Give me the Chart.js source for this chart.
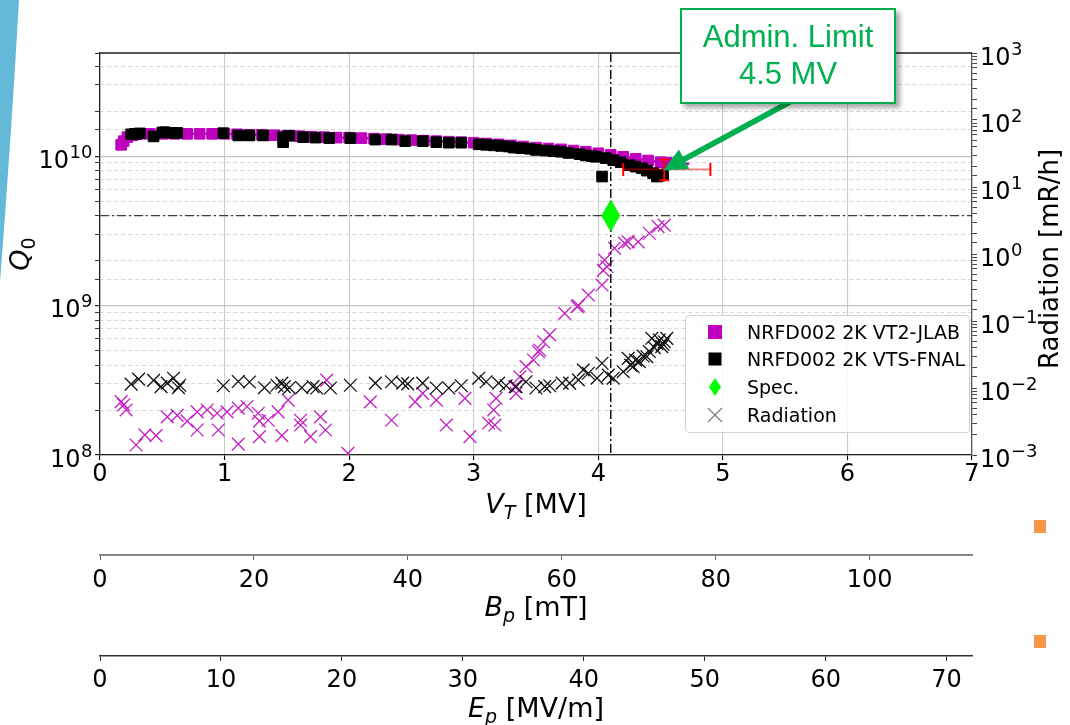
<!DOCTYPE html>
<html>
<head>
<meta charset="utf-8">
<script src="https://cdn.jsdelivr.net/npm/chart.js@4/dist/chart.umd.min.js"></script>
<style>
html,body{margin:0;padding:0;background:#fff;}
#wrap{position:relative;width:1070px;height:725px;overflow:hidden;background:#fff;}
#c{position:absolute;left:0;top:0;}
#deco{position:absolute;left:0;top:0;}
.sq{position:absolute;width:12px;height:13px;background:#f79646;}
#legend{position:absolute;left:685px;top:315px;width:285px;height:118px;box-sizing:border-box;border:1px solid #d3d3d3;border-radius:4px;background:rgba(255,255,255,0.85);font-family:'DejaVu Sans';font-size:19px;color:#000;}
#legend .row{position:absolute;left:0;width:100%;height:28px;}
#legend svg{position:absolute;left:15px;top:0;}
#legend span{position:absolute;left:61px;top:3px;line-height:22px;white-space:nowrap;}
#callout{position:absolute;left:680px;top:8px;width:216px;height:96px;box-sizing:border-box;border:2px solid #00b050;background:#fff;box-shadow:4px 4px 5px rgba(0,0,0,0.35);color:#00b050;font-family:'Liberation Sans';font-size:31px;text-align:center;line-height:36.5px;padding-top:9px;}
</style>
</head>
<body>
<div id="wrap">
<canvas id="c" width="1070" height="725"></canvas>
<svg id="deco" width="30" height="300"><path d="M0,0 L19,0 Q11,140 0,282 Z" fill="#63b9d7"/></svg>
<div class="sq" style="left:1034px;top:520px"></div>
<div class="sq" style="left:1034px;top:635px"></div>
<div id="legend">
  <div class="row" style="top:2px"><svg width="28" height="28"><rect x="7" y="7" width="14" height="14" fill="#bf00bf"/></svg><span>NRFD002 2K VT2-JLAB</span></div>
  <div class="row" style="top:29px"><svg width="28" height="28"><rect x="7.5" y="7.5" width="13" height="13" fill="#000"/></svg><span>NRFD002 2K VTS-FNAL</span></div>
  <div class="row" style="top:57px"><svg width="28" height="28"><path d="M14,5 L20,14 L14,23 L8,14 Z" fill="#00ff00"/></svg><span>Spec.</span></div>
  <div class="row" style="top:85px"><svg width="28" height="28"><path d="M7,7 L21,21 M21,7 L7,21" stroke="#808080" stroke-width="1.3" fill="none"/></svg><span>Radiation</span></div>
</div>
<div id="callout">Admin. Limit<br>4.5 MV</div>
</div>
<script>
// ---------------- data ----------------
const vtRange = [0, 7];
const bpRange = [0, 113.3];
const epRange = [0, 72.1];
const qRange = [1e8, 4.9e10];
const radRange = [1e-3, 1e3];

const vtTicks = [0, 1, 2, 3, 4, 5, 6, 7];
const bpTicks = [0, 20, 40, 60, 80, 100];
const epTicks = [0, 10, 20, 30, 40, 50, 60, 70];
const qTickValues = [1e8, 1e9, 1e10];
const qTickBase = ['10', '10', '10'];
const qTickExp = ['8', '9', '10'];
const radTickValues = [1e-3, 1e-2, 1e-1, 1e0, 1e1, 1e2, 1e3];
const radTickBase = ['10', '10', '10', '10', '10', '10', '10'];
const radTickExp = ['−3', '−2', '−1', '0', '1', '2', '3'];

// Q0 — NRFD002 2K VT2-JLAB (magenta)
const jlabV = [0.17,0.19,0.22,0.26,0.3,0.4,0.5,0.6,0.7,0.8,0.9,1.0,1.1,1.2,1.3,1.4,1.5,1.6,1.7,1.8,1.9,2.0,2.1,2.2,2.3,2.4,2.5,2.6,2.7,2.8,2.9,3.0,3.1,3.2,3.3,3.4,3.5,3.6,3.7,3.8,3.9,4.0,4.1,4.2,4.3,4.4,4.5,4.55,4.73];
const jlabQ = [1.19e10,1.26e10,1.34e10,1.38e10,1.40e10,1.41e10,1.41e10,1.41e10,1.41e10,1.41e10,1.41e10,1.41e10,1.40e10,1.39e10,1.39e10,1.38e10,1.37e10,1.36e10,1.35e10,1.34e10,1.33e10,1.33e10,1.32e10,1.31e10,1.30e10,1.29e10,1.28e10,1.27e10,1.26e10,1.25e10,1.24e10,1.23e10,1.215e10,1.20e10,1.18e10,1.16e10,1.14e10,1.125e10,1.11e10,1.09e10,1.07e10,1.045e10,1.02e10,0.99e10,0.96e10,0.935e10,0.91e10,0.90e10,0.89e10];

// Q0 — NRFD002 2K VTS-FNAL (black)
const fnalV = [0.25,0.28,0.32,0.43,0.5,0.52,0.58,0.62,0.99,1.11,1.20,1.31,1.47,1.47,1.52,1.63,1.73,1.84,2.01,2.21,2.34,2.45,2.59,2.70,2.80,2.90,3.04,3.10,3.16,3.22,3.28,3.32,3.38,3.45,3.50,3.58,3.64,3.70,3.76,3.85,3.90,3.95,3.98,4.03,4.06,4.12,4.18,4.25,4.30,4.35,4.39,4.44,4.47,4.49,4.52];
const fnalQ = [1.40e10,1.41e10,1.42e10,1.355e10,1.44e10,1.445e10,1.43e10,1.43e10,1.425e10,1.375e10,1.375e10,1.375e10,1.34e10,1.24e10,1.37e10,1.34e10,1.33e10,1.32e10,1.32e10,1.29e10,1.29e10,1.26e10,1.26e10,1.24e10,1.23e10,1.23e10,1.20e10,1.19e10,1.18e10,1.17e10,1.16e10,1.14e10,1.13e10,1.12e10,1.10e10,1.09e10,1.08e10,1.07e10,1.05e10,1.03e10,1.01e10,1.0e10,0.99e10,0.73e10,0.97e10,0.94e10,0.91e10,0.87e10,0.85e10,0.83e10,0.80e10,0.77e10,0.73e10,0.74e10,0.75e10];

// Red error bar point
const errV = [4.53], errQ = [8.15e9];
const errVlo = [4.2], errVhi = [4.9];
const errQlo = [6.9e9], errQhi = [9.5e9];

// Spec.
const specV = [4.1];
const specQ = [4.0e9];

// Admin limit arrow target
const adminV = [4.52];
const adminQ = [8.0e9];

// Radiation — FNAL (black x)
const radFnalV = [0.25,0.31,0.43,0.49,0.54,0.59,0.63,0.64,0.99,1.11,1.20,1.32,1.42,1.46,1.48,1.52,1.62,1.71,1.74,1.85,2.01,2.21,2.34,2.43,2.47,2.59,2.70,2.80,2.90,3.04,3.10,3.20,3.26,3.34,3.42,3.50,3.57,3.61,3.71,3.77,3.84,3.88,3.92,3.99,4.03,4.08,4.12,4.20,4.24,4.26,4.28,4.30,4.33,4.36,4.39,4.41,4.43,4.45,4.47,4.49,4.51,4.52,4.53,4.55];
const radFnalR = [0.0114,0.0136,0.013,0.0105,0.0118,0.014,0.0101,0.011,0.0108,0.0125,0.0123,0.0101,0.011,0.0118,0.0105,0.0101,0.0101,0.0105,0.0100,0.0100,0.011,0.0118,0.0124,0.0118,0.0115,0.0118,0.0100,0.0100,0.0108,0.0140,0.0124,0.0118,0.0108,0.0105,0.0124,0.0100,0.0105,0.0108,0.0118,0.0118,0.0132,0.0186,0.0166,0.0140,0.0234,0.0156,0.0140,0.0175,0.0277,0.022,0.0209,0.026,0.0247,0.030,0.0293,0.035,0.0552,0.040,0.0464,0.052,0.0414,0.045,0.049,0.055];

// Radiation — JLAB (magenta x)
const radJlabV = [0.17,0.19,0.21,0.29,0.36,0.45,0.54,0.62,0.70,0.78,0.78,0.86,0.94,0.95,1.02,1.11,1.11,1.18,1.27,1.28,1.28,1.35,1.43,1.46,1.51,1.61,1.61,1.69,1.77,1.81,1.82,1.99,2.17,2.34,2.53,2.59,2.70,2.78,2.93,2.97,3.12,3.16,3.17,3.18,3.33,3.34,3.37,3.42,3.48,3.52,3.53,3.56,3.61,3.73,3.83,3.84,3.92,4.03,4.04,4.05,4.07,4.13,4.21,4.24,4.32,4.41,4.48,4.53];
const radJlabR = [0.00625,0.0056,0.0047,0.00141,0.0020,0.00195,0.0037,0.0039,0.0032,0.0044,0.00236,0.0047,0.0042,0.00236,0.0044,0.005,0.00145,0.0053,0.0042,0.00188,0.0032,0.0033,0.0044,0.00195,0.0066,0.0033,0.0028,0.00188,0.0037,0.00236,0.0131,0.00106,0.0062,0.0033,0.0062,0.0083,0.0066,0.0028,0.007,0.00188,0.003,0.0047,0.0028,0.007,0.0105,0.0083,0.0147,0.0209,0.0262,0.0348,0.0369,0.049,0.062,0.130,0.164,0.17,0.244,0.344,0.57,0.81,0.645,1.22,1.45,1.52,1.52,2.04,2.56,2.7];

// ---------------- helpers ----------------
const pts = (xs, ys) => xs.map((v, i) => ({x: v, y: ys[i]}));
const isDecade = v => Math.abs(Math.log10(v) - Math.round(Math.log10(v))) < 1e-6;
const FAM = "'DejaVu Sans'";
const tickFont = {family: 'DejaVu Sans', size: 24};

// thin diamond marker
const dia = document.createElement('canvas');
dia.width = 20; dia.height = 32;
{
  const d = dia.getContext('2d');
  d.fillStyle = '#00ff00';
  d.strokeStyle = '#00d000';
  d.lineWidth = 0.8;
  d.beginPath(); d.moveTo(10, 0.5); d.lineTo(19, 16); d.lineTo(10, 31.5); d.lineTo(1, 16); d.closePath();
  d.fill(); d.stroke();
}

function drawMathTitle(ctx, main, sub, rest, cx, base, size, subItalic) {
  const fMain = `italic ${size}px ${FAM}`;
  const fSub = `${subItalic ? 'italic ' : ''}${Math.round(size * 0.7)}px ${FAM}`;
  const fRest = `${size}px ${FAM}`;
  ctx.font = fMain; const w1 = ctx.measureText(main).width;
  ctx.font = fSub; const w2 = ctx.measureText(sub).width;
  ctx.font = fRest; const w3 = ctx.measureText(rest).width;
  let x0 = cx - (w1 + w2 + w3) / 2;
  ctx.textAlign = 'left'; ctx.textBaseline = 'alphabetic'; ctx.fillStyle = '#000';
  ctx.font = fMain; ctx.fillText(main, x0, base);
  ctx.font = fSub; ctx.fillText(sub, x0 + w1, base + size * 0.22);
  ctx.font = fRest; ctx.fillText(rest, x0 + w1 + w2, base);
}

// power-of-ten tick label: base at 24px, exponent at 18px raised
function drawPow(ctx, base, exp, x, py, alignRight) {
  ctx.textAlign = 'left'; ctx.textBaseline = 'alphabetic'; ctx.fillStyle = '#000';
  ctx.font = `24px ${FAM}`; const w1 = ctx.measureText(base).width;
  ctx.font = `18px ${FAM}`; const w2 = ctx.measureText(exp).width;
  const x0 = alignRight ? x - w1 - w2 : x;
  const bl = py + 11.5;
  ctx.font = `24px ${FAM}`; ctx.fillText(base, x0, bl);
  ctx.font = `18px ${FAM}`; ctx.fillText(exp, x0 + w1 + 0.5, bl - 10);
}

const overlay = {
  id: 'overlay',
  beforeDatasetDraw(chart, args) {
    if (args.meta.label !== 'NRFD002 2K VT2-JLAB') return;
    const {ctx, chartArea: a, scales: {x, y}} = chart;
    ctx.save();
    ctx.setLineDash([9, 3, 2, 3]);
    ctx.lineWidth = 1.4;
    ctx.strokeStyle = '#3c3c3c';
    const hy = y.getPixelForValue(specQ[0]);
    ctx.beginPath(); ctx.moveTo(a.left, hy); ctx.lineTo(a.right, hy); ctx.stroke();
    ctx.strokeStyle = '#000';
    const vx = x.getPixelForValue(specV[0]);
    ctx.beginPath(); ctx.moveTo(vx, a.top); ctx.lineTo(vx, a.bottom); ctx.stroke();
    ctx.restore();
  },
  afterDatasetsDraw(chart) {
    const {ctx, scales: {x, y}} = chart;
    ctx.save();
    // error bar
    const ex = x.getPixelForValue(errV[0]), ey = y.getPixelForValue(errQ[0]);
    const xl = x.getPixelForValue(errVlo[0]), xr = x.getPixelForValue(errVhi[0]);
    const yt = y.getPixelForValue(errQhi[0]), yb = y.getPixelForValue(errQlo[0]);
    ctx.strokeStyle = 'rgba(255,0,0,0.5)'; ctx.lineWidth = 1.6;
    ctx.beginPath(); ctx.moveTo(xl, ey); ctx.lineTo(xr, ey); ctx.stroke();
    ctx.strokeStyle = '#ff0000'; ctx.lineWidth = 2;
    ctx.beginPath();
    ctx.moveTo(xl, ey - 6.5); ctx.lineTo(xl, ey + 6.5);
    ctx.moveTo(xr, ey - 6.5); ctx.lineTo(xr, ey + 6.5);
    ctx.moveTo(ex, yt); ctx.lineTo(ex, yb);
    ctx.moveTo(ex - 5, yt); ctx.lineTo(ex + 5, yt);
    ctx.moveTo(ex - 5, yb); ctx.lineTo(ex + 5, yb);
    ctx.stroke();
    // arrow from callout
    const box = document.getElementById('callout');
    const sx = box.offsetLeft + box.offsetWidth / 2 + 2, sy = box.offsetTop + box.offsetHeight - 2;
    const tx = x.getPixelForValue(adminV[0]), ty = y.getPixelForValue(adminQ[0]);
    const ang = Math.atan2(ty - sy, tx - sx);
    const L = Math.hypot(tx - sx, ty - sy);
    const headL = 24, headW = 11, shaft = 2.8;
    ctx.translate(sx, sy); ctx.rotate(ang);
    ctx.fillStyle = '#00b050';
    ctx.beginPath();
    ctx.moveTo(0, -shaft); ctx.lineTo(L - headL, -shaft); ctx.lineTo(L - headL, -headW);
    ctx.lineTo(L, 0); ctx.lineTo(L - headL, headW); ctx.lineTo(L - headL, shaft); ctx.lineTo(0, shaft);
    ctx.closePath(); ctx.fill();
    ctx.restore();
  },
  afterDraw(chart) {
    const {ctx, chartArea: a, scales} = chart;
    ctx.save();
    // top spine
    ctx.strokeStyle = '#222'; ctx.lineWidth = 1.3;
    ctx.beginPath(); ctx.moveTo(a.left, a.top); ctx.lineTo(a.right, a.top); ctx.stroke();
    // power-of-ten tick labels
    qTickValues.forEach((v, i) => drawPow(ctx, qTickBase[i], qTickExp[i], a.left - 8, scales.y.getPixelForValue(v), true));
    radTickValues.forEach((v, i) => drawPow(ctx, radTickBase[i], radTickExp[i], a.right + 8, scales.y2.getPixelForValue(v), false));
    const cx = (a.left + a.right) / 2;
    drawMathTitle(ctx, 'V', 'T', ' [MV]', cx, scales.x.top + 58, 27, true);
    drawMathTitle(ctx, 'B', 'p', ' [mT]', cx, scales.bp.top + 61, 27, true);
    drawMathTitle(ctx, 'E', 'p', ' [MV/m]', cx, scales.ep.top + 61, 27, true);
    // Q0 rotated
    ctx.save();
    ctx.translate(29, (a.top + a.bottom) / 2);
    ctx.rotate(-Math.PI / 2);
    drawMathTitle(ctx, 'Q', '0', '', 0, 0, 27, false);
    ctx.restore();
    // Radiation rotated
    ctx.save();
    ctx.translate(1058, (a.top + a.bottom) / 2 + 5);
    ctx.rotate(-Math.PI / 2);
    ctx.font = `26px ${FAM}`; ctx.textAlign = 'center'; ctx.textBaseline = 'alphabetic'; ctx.fillStyle = '#000';
    ctx.fillText('Radiation [mR/h]', 0, 0);
    ctx.restore();
    ctx.restore();
  }
};

const jlabLast = jlabV.length - 1;

new Chart(document.getElementById('c'), {
  type: 'scatter',
  data: {
    datasets: [
      {label: 'Spec.', data: pts(specV, specQ), xAxisID: 'x', yAxisID: 'y', pointStyle: dia, pointRadius: 10, order: 0},
      {label: 'NRFD002 2K VTS-FNAL', data: pts(fnalV, fnalQ), xAxisID: 'x', yAxisID: 'y', showLine: false,
        pointStyle: 'rect', pointRadius: 7.5, pointBackgroundColor: '#000', pointBorderColor: '#000', pointBorderWidth: 1, order: 1},
      {label: 'NRFD002 2K VT2-JLAB', data: pts(jlabV, jlabQ), xAxisID: 'x', yAxisID: 'y', showLine: true,
        borderColor: '#bf00bf', borderWidth: 2.5, pointStyle: 'rect',
        pointRadius: c => c.dataIndex === jlabLast ? 0 : 7.5,
        pointBackgroundColor: '#bf00bf', pointBorderColor: '#bf00bf', pointBorderWidth: 1, order: 2},
      {label: 'Radiation FNAL', data: pts(radFnalV, radFnalR), xAxisID: 'x', yAxisID: 'y2', showLine: false,
        pointStyle: 'crossRot', pointRadius: 9, pointBorderColor: '#111', pointBorderWidth: 1.3, order: 3},
      {label: 'Radiation JLAB', data: pts(radJlabV, radJlabR), xAxisID: 'x', yAxisID: 'y2', showLine: false,
        pointStyle: 'crossRot', pointRadius: 9, pointBorderColor: '#c21fc2', pointBorderWidth: 1.3, order: 4}
    ]
  },
  options: {
    responsive: false,
    animation: false,
    devicePixelRatio: 1,
    layout: {padding: {top: 53, left: 0, right: 0, bottom: 0}},
    plugins: {legend: {display: false}, tooltip: {enabled: false}},
    scales: {
      x: {
        type: 'linear', position: 'bottom', weight: 0, min: vtRange[0], max: vtRange[1],
        afterBuildTicks: s => { s.ticks = vtTicks.map(v => ({value: v})); },
        ticks: {font: tickFont, color: '#000', padding: 0, maxRotation: 0, autoSkip: false},
        grid: {color: '#cbcbcb', lineWidth: 1.1, tickColor: '#000', tickLength: 5},
        border: {color: '#222', width: 1.3},
        afterFit: s => { s.height = 100; }
      },
      bp: {
        type: 'linear', position: 'bottom', weight: 1, min: bpRange[0], max: bpRange[1],
        afterBuildTicks: s => { s.ticks = bpTicks.map(v => ({value: v})); },
        ticks: {font: tickFont, color: '#000', padding: 6, maxRotation: 0, autoSkip: false},
        grid: {drawOnChartArea: false, tickColor: '#666', tickLength: 5},
        border: {color: '#858585', width: 2},
        afterFit: s => { s.height = 101; }
      },
      ep: {
        type: 'linear', position: 'bottom', weight: 2, min: epRange[0], max: epRange[1],
        afterBuildTicks: s => { s.ticks = epTicks.map(v => ({value: v})); },
        ticks: {font: tickFont, color: '#000', padding: 5, maxRotation: 0, autoSkip: false},
        grid: {drawOnChartArea: false, tickColor: '#222', tickLength: 5},
        border: {color: '#333', width: 1.6},
        afterFit: s => { s.height = 69; }
      },
      y: {
        type: 'logarithmic', position: 'left', min: qRange[0], max: qRange[1],
        ticks: {font: tickFont, color: '#000', padding: 3, autoSkip: false, callback: () => ''},
        grid: {
          color: c => (c.tick && isDecade(c.tick.value)) ? '#c4c4c4' : '#d2d2d2',
          lineWidth: c => (c.tick && isDecade(c.tick.value)) ? 1.2 : 0.9,
          tickColor: '#222', tickLength: 5
        },
        border: {color: '#222', width: 1.3,
          dash: c => (c.tick && !isDecade(c.tick.value)) ? [4, 3] : []},
        afterFit: s => { s.width = 100; }
      },
      y2: {
        type: 'logarithmic', position: 'right', min: radRange[0], max: radRange[1],
        ticks: {font: tickFont, color: '#000', padding: 3, autoSkip: false, callback: () => ''},
        grid: {drawOnChartArea: false, tickColor: '#444', tickLength: 5},
        border: {color: '#555', width: 1.3},
        afterFit: s => { s.width = 98; }
      }
    }
  },
  plugins: [overlay]
});
</script>
</body>
</html>
